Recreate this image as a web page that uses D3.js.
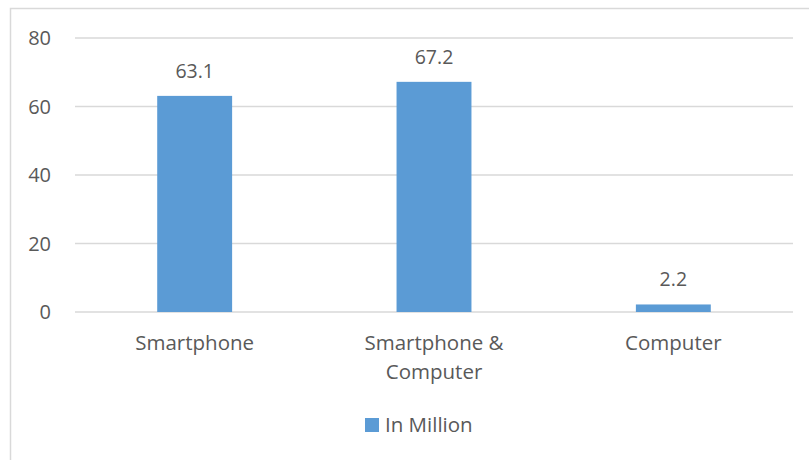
<!DOCTYPE html>
<html>
<head>
<meta charset="utf-8">
<script src="https://cdn.jsdelivr.net/npm/d3@7"></script>
<style>
  body { margin: 0; background: #fff; }
  text { font-family: "Open Sans", "Noto Sans", sans-serif; fill: #595959; }
</style>
</head>
<body>
<svg id="chart"></svg>
<script>
const categories = [["Smartphone"], ["Smartphone &", "Computer"], ["Computer"]];
const values = [63.1, 67.2, 2.2];
const yTicks = [0, 20, 40, 60, 80];
const seriesName = "In Million";

const width = 809, height = 460;
const svg = d3.select('#chart').attr('width', width).attr('height', height);

// chart frame (top and left edges visible only)
svg.append('rect')
  .attr('x', 10.5).attr('y', 8.5)
  .attr('width', 820).attr('height', 470)
  .attr('fill', 'none')
  .attr('stroke', '#d9d9d9')
  .attr('stroke-width', 1.5);

const x = d3.scaleBand()
  .domain(d3.range(values.length))
  .range([75, 793])
  .paddingInner(0.687)
  .paddingOuter(0.3435);

const y = d3.scaleLinear().domain([0, 80]).range([312, 38]);

// gridlines
svg.append('g').selectAll('line')
  .data(yTicks)
  .enter().append('line')
  .attr('x1', 75).attr('x2', 793)
  .attr('y1', d => y(d)).attr('y2', d => y(d))
  .attr('stroke', '#d9d9d9')
  .attr('stroke-width', 1.5);

// y tick labels
svg.append('g').selectAll('text')
  .data(yTicks)
  .enter().append('text')
  .attr('x', 51)
  .attr('y', d => y(d))
  .attr('dy', '0.35em')
  .attr('text-anchor', 'end')
  .attr('font-size', 20)
  .text(d => d);

// bars
svg.append('g').selectAll('rect')
  .data(values)
  .enter().append('rect')
  .attr('x', (d, i) => x(i))
  .attr('y', d => y(d))
  .attr('width', x.bandwidth())
  .attr('height', d => y(0) - y(d))
  .attr('fill', '#5b9bd5');

// value labels
svg.append('g').selectAll('text')
  .data(values)
  .enter().append('text')
  .attr('x', (d, i) => x(i) + x.bandwidth() / 2)
  .attr('y', d => y(d) - 18)
  .attr('text-anchor', 'middle')
  .attr('font-size', 19.5)
  .text(d => d.toFixed(1));

// category labels
const cats = svg.append('g').selectAll('text')
  .data(categories)
  .enter().append('text')
  .attr('text-anchor', 'middle')
  .attr('font-size', 20.5)
  .attr('transform', (d, i) => `translate(${x(i) + x.bandwidth() / 2},350)`);
cats.selectAll('tspan')
  .data(d => d)
  .enter().append('tspan')
  .attr('x', 0)
  .attr('y', (d, i) => i * 29)
  .text(d => d);

// legend
const legend = svg.append('g').attr('transform', 'translate(365,418)');
legend.append('rect').attr('width', 14).attr('height', 14).attr('fill', '#5b9bd5');
legend.append('text')
  .attr('x', 20).attr('y', 7).attr('dy', '0.35em')
  .attr('font-size', 20.5)
  .text(seriesName);
</script>
</body>
</html>
